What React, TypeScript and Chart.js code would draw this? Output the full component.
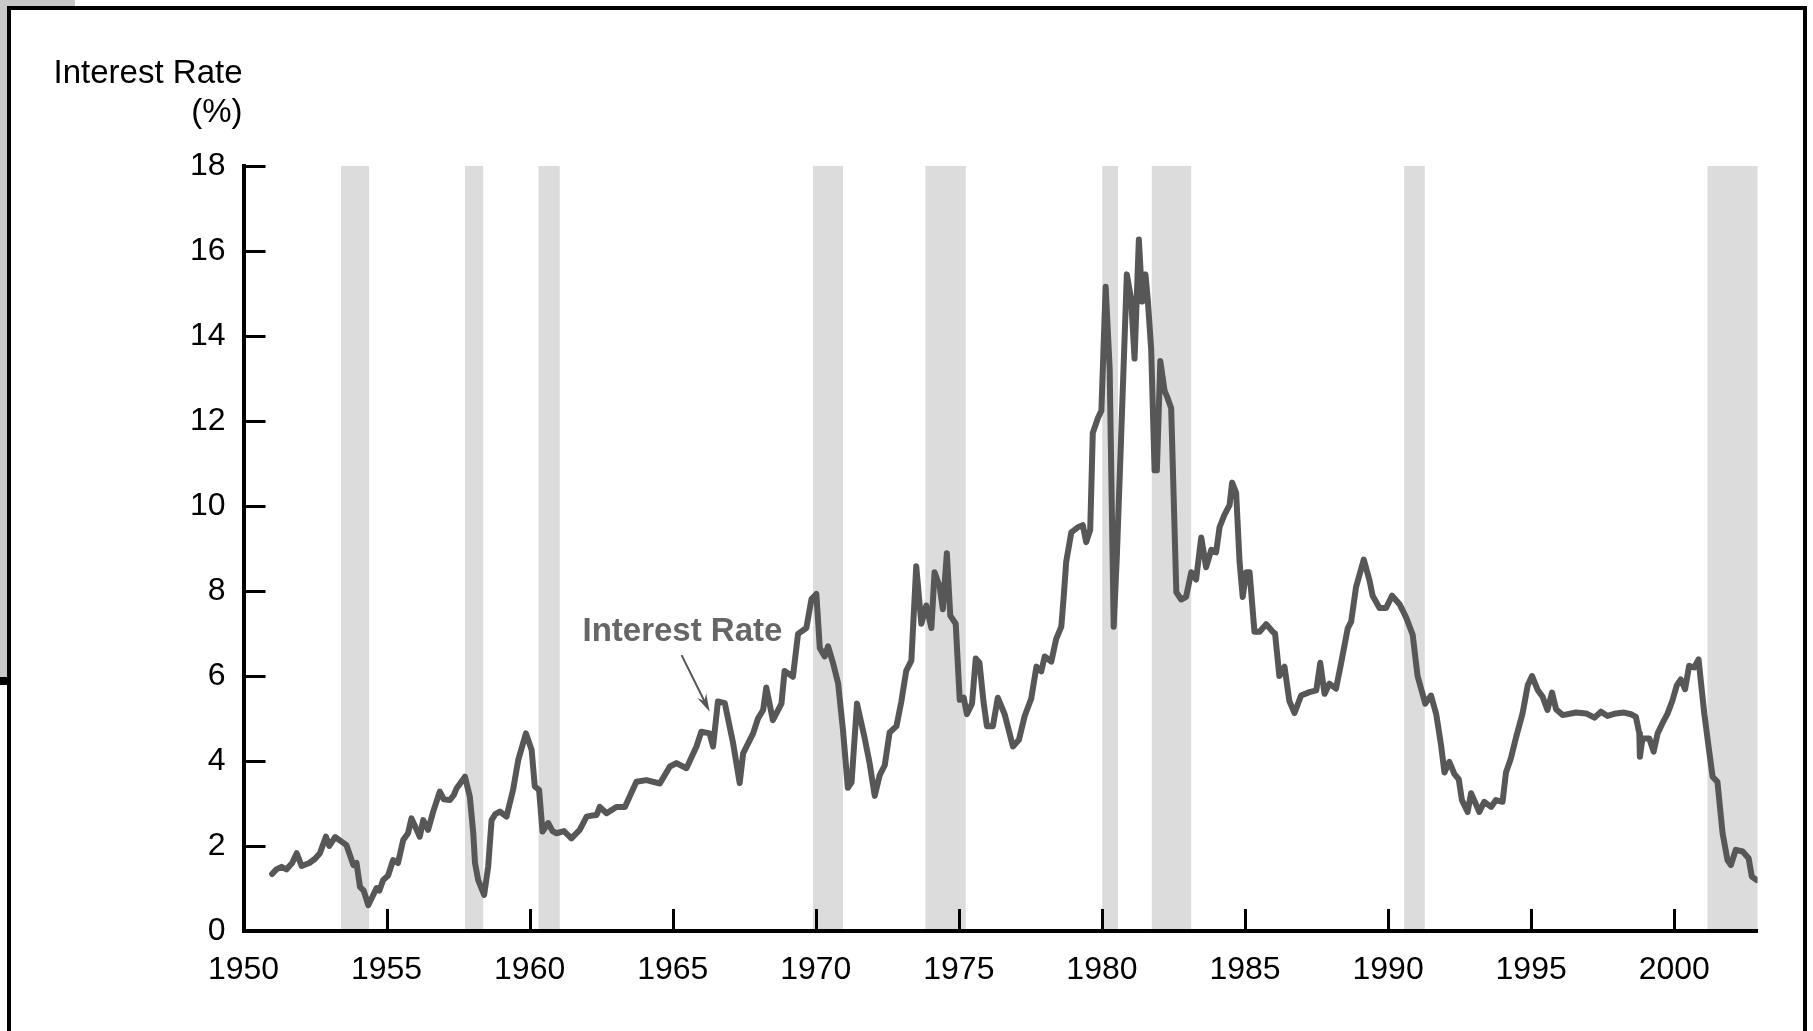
import React, { useEffect, useRef } from "react";
import { Chart, registerables } from "chart.js";

Chart.register(...registerables);

const FONT = '"Liberation Sans", Arial, Helvetica, sans-serif';

// [year, rate %]
const rates1950s: [number, number][] = [
  [1951.0, 1.34], [1951.15, 1.45], [1951.33, 1.51], [1951.5, 1.45], [1951.7, 1.6], [1951.86, 1.83],
  [1952.03, 1.53], [1952.3, 1.6], [1952.5, 1.7], [1952.67, 1.83], [1952.88, 2.22], [1953.0, 2.0],
  [1953.2, 2.21], [1953.6, 2.02], [1953.84, 1.55], [1953.95, 1.6], [1954.07, 1.04], [1954.2, 0.95],
  [1954.36, 0.61], [1954.5, 0.8], [1954.65, 1.01], [1954.75, 0.95], [1954.88, 1.2], [1955.05, 1.3],
  [1955.23, 1.67], [1955.4, 1.6], [1955.58, 2.14], [1955.75, 2.3], [1955.87, 2.65], [1956.16, 2.22],
  [1956.28, 2.61], [1956.45, 2.38], [1956.63, 2.81], [1956.86, 3.28], [1957.0, 3.1], [1957.21, 3.08],
  [1957.35, 3.2], [1957.45, 3.36], [1957.74, 3.63], [1957.91, 3.16], [1958.03, 2.3], [1958.09, 1.6],
  [1958.2, 1.2], [1958.41, 0.85], [1958.55, 1.51], [1958.67, 2.61], [1958.8, 2.75], [1958.96, 2.81],
  [1959.19, 2.69], [1959.42, 3.32], [1959.6, 4.02], [1959.87, 4.65],
];
const rates1960s: [number, number][] = [
  [1960.07, 4.26], [1960.18, 3.4], [1960.33, 3.32], [1960.45, 2.34], [1960.65, 2.54], [1960.8, 2.35],
  [1960.94, 2.3], [1961.2, 2.35], [1961.46, 2.18], [1961.75, 2.38], [1961.99, 2.69], [1962.2, 2.72],
  [1962.34, 2.73], [1962.45, 2.92], [1962.69, 2.77], [1963.03, 2.92], [1963.33, 2.92], [1963.73, 3.51],
  [1964.08, 3.55], [1964.55, 3.47], [1964.9, 3.87], [1965.13, 3.95], [1965.48, 3.83], [1965.83, 4.34],
  [1966.0, 4.69], [1966.29, 4.65], [1966.41, 4.34], [1966.58, 5.4], [1966.82, 5.36], [1967.11, 4.42],
  [1967.34, 3.48], [1967.46, 4.18], [1967.81, 4.65], [1967.98, 5.0], [1968.16, 5.2], [1968.27, 5.73],
  [1968.5, 4.96], [1968.8, 5.35], [1968.91, 6.12], [1969.2, 5.98], [1969.38, 6.99], [1969.67, 7.13],
  [1969.85, 7.81],
];
const rates1970s: [number, number][] = [
  [1970.02, 7.93], [1970.14, 6.66], [1970.31, 6.46], [1970.43, 6.7], [1970.6, 6.31], [1970.78, 5.83],
  [1970.95, 4.73], [1971.12, 3.37], [1971.25, 3.5], [1971.44, 5.35], [1971.71, 4.53], [1971.88, 3.95],
  [1972.06, 3.18], [1972.23, 3.66], [1972.41, 3.9], [1972.58, 4.67], [1972.82, 4.82], [1972.99, 5.4],
  [1973.16, 6.12], [1973.34, 6.36], [1973.51, 8.58], [1973.69, 7.23], [1973.86, 7.66], [1974.04, 7.13],
  [1974.15, 8.44], [1974.33, 8.1], [1974.44, 7.57], [1974.58, 8.89], [1974.7, 7.42], [1974.89, 7.23],
  [1975.03, 5.44], [1975.17, 5.49], [1975.28, 5.1], [1975.46, 5.35], [1975.59, 6.41], [1975.72, 6.31],
  [1975.86, 5.4], [1975.98, 4.82], [1976.19, 4.82], [1976.36, 5.49], [1976.6, 5.1], [1976.89, 4.34],
  [1977.1, 4.5], [1977.3, 5.06], [1977.53, 5.47], [1977.71, 6.22], [1977.88, 6.11], [1978.0, 6.46],
  [1978.23, 6.34], [1978.4, 6.87], [1978.58, 7.16], [1978.67, 7.92], [1978.75, 8.68], [1978.93, 9.38],
  [1979.16, 9.5], [1979.33, 9.55], [1979.45, 9.15], [1979.59, 9.44], [1979.68, 11.72], [1979.86, 12.07],
  [1979.98, 12.24],
];
const rates1980s: [number, number][] = [
  [1980.13, 15.16], [1980.27, 13.23], [1980.41, 7.16], [1980.52, 8.8], [1980.67, 11.6], [1980.87, 15.45],
  [1981.02, 14.87], [1981.14, 13.47], [1981.29, 16.27], [1981.41, 14.81], [1981.52, 15.45], [1981.6, 14.87],
  [1981.72, 13.7], [1981.84, 10.84], [1981.92, 10.84], [1982.04, 13.41], [1982.19, 12.71], [1982.3, 12.53],
  [1982.42, 12.3], [1982.6, 7.97], [1982.77, 7.8], [1982.94, 7.86], [1983.12, 8.44], [1983.29, 8.27],
  [1983.47, 9.26], [1983.64, 8.56], [1983.82, 8.97], [1983.99, 8.91], [1984.11, 9.5], [1984.28, 9.79],
  [1984.46, 10.02], [1984.55, 10.55], [1984.69, 10.31], [1984.81, 8.68], [1984.92, 7.86], [1985.04, 8.44],
  [1985.16, 8.44], [1985.33, 7.04], [1985.51, 7.04], [1985.74, 7.22], [1985.97, 7.04], [1986.05, 7.0],
  [1986.2, 6.0], [1986.38, 6.22], [1986.55, 5.41], [1986.73, 5.13], [1986.96, 5.54], [1987.25, 5.62],
  [1987.49, 5.66], [1987.63, 6.31], [1987.78, 5.58], [1987.95, 5.82], [1988.18, 5.7], [1988.36, 6.31],
  [1988.59, 7.12], [1988.71, 7.28], [1988.88, 8.09], [1989.15, 8.74], [1989.35, 8.25], [1989.46, 7.89],
  [1989.7, 7.6], [1989.93, 7.6],
];
const rates1990s: [number, number][] = [
  [1990.14, 7.89], [1990.4, 7.69], [1990.63, 7.38], [1990.86, 6.97], [1991.03, 6.0], [1991.3, 5.35],
  [1991.5, 5.54], [1991.68, 5.11], [1991.85, 4.38], [1991.97, 3.73], [1992.14, 3.98], [1992.32, 3.69],
  [1992.47, 3.57], [1992.58, 3.08], [1992.78, 2.8], [1992.9, 3.24], [1993.19, 2.8], [1993.36, 3.04],
  [1993.6, 2.92], [1993.77, 3.08], [1994.0, 3.04], [1994.12, 3.73], [1994.29, 4.06], [1994.47, 4.55],
  [1994.7, 5.12], [1994.88, 5.78], [1995.03, 6.0], [1995.23, 5.67], [1995.4, 5.51], [1995.57, 5.2],
  [1995.73, 5.61], [1995.87, 5.22], [1996.1, 5.08], [1996.57, 5.14], [1996.92, 5.12], [1997.21, 5.02],
  [1997.44, 5.16], [1997.67, 5.06], [1997.96, 5.12], [1998.25, 5.14], [1998.49, 5.1], [1998.66, 5.04],
  [1998.78, 4.65], [1998.8, 4.1], [1998.89, 4.53], [1999.13, 4.53], [1999.28, 4.22], [1999.42, 4.65],
  [1999.59, 4.89], [1999.77, 5.12], [1999.94, 5.43],
];
const rates2000s: [number, number][] = [
  [2000.09, 5.78], [2000.23, 5.92], [2000.38, 5.69], [2000.52, 6.24], [2000.7, 6.2], [2000.85, 6.39],
  [2000.93, 5.88], [2001.05, 5.12], [2001.2, 4.34], [2001.34, 3.63], [2001.51, 3.51], [2001.69, 2.3],
  [2001.86, 1.67], [2001.98, 1.55], [2002.15, 1.91], [2002.39, 1.87], [2002.6, 1.71], [2002.71, 1.28],
  [2002.88, 1.2],
];

const recessionStarts = [1953.41, 1957.74, 1960.31, 1969.9, 1973.83, 1980.01, 1981.74, 1990.56, 2001.16];
const recessionEnds = [1954.39, 1958.38, 1961.05, 1970.95, 1975.24, 1980.56, 1983.12, 1991.28, 2002.91];

const xTickYears = [1950, 1955, 1960, 1965, 1970, 1975, 1980, 1985, 1990, 1995, 2000];
const yTickValues = [0, 2, 4, 6, 8, 10, 12, 14, 16, 18];
const xAxisMin = 1950;
const xAxisMax = 2002.91;
const yAxisMin = 0;
const yAxisMax = 18;

const axisTitleLines = ["Interest Rate", "(%)"];
const annotationLabel = "Interest Rate";
const annotationTextAt = [1965.34, 6.82];
const annotationArrowFrom = [1965.31, 6.49];
const annotationArrowTo = [1966.29, 5.16];

const decorPlugin = {
  id: "decor",
  beforeDatasetsDraw(chart: any) {
    const { ctx } = chart;
    const x = chart.scales.x;
    const y = chart.scales.y;
    const top = y.getPixelForValue(yAxisMax);
    const bottom = y.getPixelForValue(yAxisMin);
    ctx.save();
    ctx.fillStyle = "#dcdcdc";
    recessionStarts.forEach((s, i) => {
      const x0 = x.getPixelForValue(s);
      const x1 = x.getPixelForValue(recessionEnds[i]);
      ctx.fillRect(x0, top, x1 - x0, bottom - top);
    });
    ctx.restore();
  },
  afterDraw(chart: any) {
    const { ctx, chartArea } = chart;
    const x = chart.scales.x;
    const y = chart.scales.y;
    ctx.save();
    // inward tick marks
    ctx.strokeStyle = "#000";
    ctx.lineWidth = 3;
    ctx.beginPath();
    yTickValues.forEach((v) => {
      if (v === yAxisMin) return;
      const py = Math.round(y.getPixelForValue(v)) + 0.5;
      ctx.moveTo(chartArea.left, py);
      ctx.lineTo(chartArea.left + 22, py);
    });
    xTickYears.forEach((v) => {
      if (v === xAxisMin) return;
      const px = Math.round(x.getPixelForValue(v)) + 0.5;
      ctx.moveTo(px, chartArea.bottom);
      ctx.lineTo(px, chartArea.bottom - 22);
    });
    ctx.stroke();

    // axis title
    ctx.fillStyle = "#000";
    ctx.font = `33px ${FONT}`;
    ctx.textAlign = "right";
    ctx.textBaseline = "alphabetic";
    ctx.fillText(axisTitleLines[0], chartArea.left - 1, 83);
    ctx.fillText(axisTitleLines[1], chartArea.left - 1, 122);

    // annotation
    ctx.fillStyle = "#666666";
    ctx.font = `bold 33px ${FONT}`;
    ctx.textAlign = "center";
    ctx.fillText(annotationLabel, x.getPixelForValue(annotationTextAt[0]), y.getPixelForValue(annotationTextAt[1]));

    const ax0 = x.getPixelForValue(annotationArrowFrom[0]);
    const ay0 = y.getPixelForValue(annotationArrowFrom[1]);
    const ax1 = x.getPixelForValue(annotationArrowTo[0]);
    const ay1 = y.getPixelForValue(annotationArrowTo[1]);
    const ang = Math.atan2(ay1 - ay0, ax1 - ax0);
    ctx.strokeStyle = "#555555";
    ctx.lineWidth = 2;
    ctx.beginPath();
    ctx.moveTo(ax0, ay0);
    ctx.lineTo(ax1 - 8 * Math.cos(ang), ay1 - 8 * Math.sin(ang));
    ctx.stroke();
    const hl = 18;
    const hw = 5;
    const bx = ax1 - hl * Math.cos(ang);
    const by = ay1 - hl * Math.sin(ang);
    ctx.fillStyle = "#555555";
    ctx.beginPath();
    ctx.moveTo(ax1, ay1);
    ctx.lineTo(bx + hw * Math.sin(ang), by - hw * Math.cos(ang));
    ctx.lineTo(bx + 0.35 * hl * Math.cos(ang), by + 0.35 * hl * Math.sin(ang));
    ctx.lineTo(bx - hw * Math.sin(ang), by + hw * Math.cos(ang));
    ctx.closePath();
    ctx.fill();
    ctx.restore();
  },
};

export default function App() {
  const canvasRef = useRef<HTMLCanvasElement | null>(null);

  useEffect(() => {
    if (!canvasRef.current) return;
    const series = [...rates1950s, ...rates1960s, ...rates1970s, ...rates1980s, ...rates1990s, ...rates2000s];
    const chart = new Chart(canvasRef.current, {
      type: "line",
      data: {
        datasets: [
          {
            label: "Interest Rate",
            data: series.map(([yr, r]) => ({ x: yr, y: r })),
            borderColor: "#575757",
            borderWidth: 6,
            pointRadius: 0,
            tension: 0,
            borderJoinStyle: "round",
            borderCapStyle: "round",
            fill: false,
          },
        ],
      },
      options: {
        responsive: false,
        animation: false,
        devicePixelRatio: 1,
        layout: { padding: { left: 0, top: 166, right: 55.5, bottom: 0 } },
        plugins: { legend: { display: false }, tooltip: { enabled: false }, title: { display: false } },
        scales: {
          x: {
            type: "linear",
            min: xAxisMin,
            max: xAxisMax,
            afterFit: (scale: any) => {
              scale.height = 100;
            },
            afterBuildTicks: (scale: any) => {
              scale.ticks = xTickYears.map((v) => ({ value: v }));
            },
            grid: { display: false, drawTicks: false },
            border: { display: true, color: "#000", width: 4, z: 1 },
            ticks: {
              color: "#000",
              font: { family: FONT, size: 32 },
              padding: 20,
              maxRotation: 0,
              autoSkip: false,
              includeBounds: false,
              callback: (v: any) => String(v),
            },
          },
          y: {
            type: "linear",
            min: yAxisMin,
            max: yAxisMax,
            afterFit: (scale: any) => {
              scale.width = 243.5;
            },
            afterBuildTicks: (scale: any) => {
              scale.ticks = yTickValues.map((v) => ({ value: v }));
            },
            grid: { display: false, drawTicks: false },
            border: { display: true, color: "#000", width: 4, z: 1 },
            ticks: {
              color: "#000",
              font: { family: FONT, size: 32 },
              padding: 18,
              autoSkip: false,
              includeBounds: false,
              callback: (v: any) => String(v),
            },
          },
        },
      },
      plugins: [decorPlugin],
    } as any);
    return () => chart.destroy();
  }, []);

  return (
    <div style={{ position: "fixed", left: 0, top: 0, width: 1813, height: 1031, background: "#fff", overflow: "hidden" }}>
      <div style={{ position: "absolute", left: 0, top: 0, width: 75, height: 7, background: "#c8c8c8" }} />
      <div style={{ position: "absolute", left: 0, top: 0, width: 8, height: 678, background: "#c8c8c8" }} />
      <div style={{ position: "absolute", left: 0, top: 677, width: 9, height: 8, background: "#000" }} />
      <div
        style={{
          position: "absolute",
          left: 7,
          top: 6,
          width: 1800,
          height: 1200,
          border: "4px solid #000",
          boxSizing: "border-box",
        }}
      />
      <canvas ref={canvasRef} width={1813} height={1031} style={{ position: "absolute", left: 0, top: 0 }} />
    </div>
  );
}
